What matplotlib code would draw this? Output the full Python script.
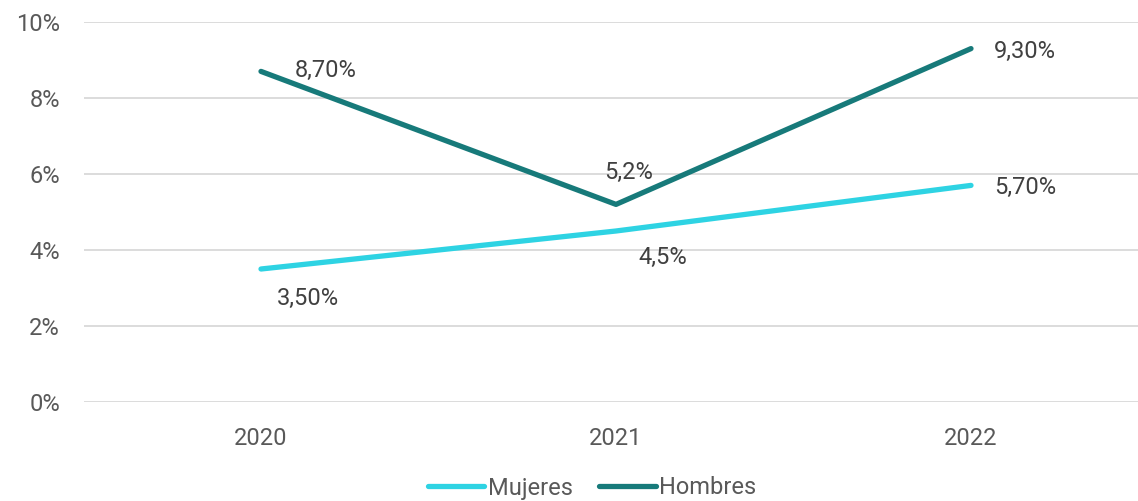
import matplotlib
matplotlib.use("Agg")
import matplotlib.pyplot as plt

plt.rcParams["font.family"] = ["Roboto", "DejaVu Sans"]

anios = ["2020", "2021", "2022"]
mujeres = [3.5, 4.5, 5.7]
hombres = [8.7, 5.2, 9.3]
etiq_mujeres = ["3,50%", "4,5%", "5,70%"]
etiq_hombres = ["8,70%", "5,2%", "9,30%"]

c_muj = "#2ED3E3"
c_hom = "#177A7A"
gris = "#595959"

fig = plt.figure(figsize=(11.38, 5.01), dpi=100)
ax = fig.add_axes([83.5/1138, 99/501, 1065/1138, 380/501])

x = range(len(anios))
ax.plot(x, mujeres, color=c_muj, lw=3.8, solid_capstyle="round", label="Mujeres", zorder=3)
ax.plot(x, hombres, color=c_hom, lw=3.8, solid_capstyle="round", label="Hombres", zorder=3)

# posiciones de las etiquetas (desplazamiento en puntos)
off_m = [(11.5, -21), (16.5, -19), (16.5, -1.5)]
off_h = [(24.5, 1), (-8.6, 23), (16.5, -2)]
for i in x:
    ax.annotate(etiq_mujeres[i], (i, mujeres[i]), xytext=off_m[i], textcoords="offset points",
                ha="left", va="center", fontsize=17, color="#404040")
    ax.annotate(etiq_hombres[i], (i, hombres[i]), xytext=off_h[i], textcoords="offset points",
                ha="left", va="center", fontsize=17, color="#404040")

ax.set_xlim(-0.5, 2.5)
ax.set_ylim(0, 10)
ax.set_yticks(range(0, 11, 2))
ax.set_yticklabels([f"{v}%" for v in range(0, 11, 2)])
ax.set_xticks(list(x))
ax.set_xticklabels(anios)
ax.tick_params(length=0, labelsize=17, colors=gris)
ax.tick_params(axis="y", pad=17)
ax.tick_params(axis="x", pad=18)
ax.grid(axis="y", color="#D9D9D9", lw=1.3)
ax.set_axisbelow(True)
for s in ax.spines.values():
    s.set_visible(False)

fig.legend(loc="center", bbox_to_anchor=(592/1138, 1 - 488/501), ncol=2, frameon=False,
           fontsize=17, labelcolor=gris, handlelength=2.4, handletextpad=0.15, columnspacing=1.1)

fig.savefig("out.png", dpi=100)
